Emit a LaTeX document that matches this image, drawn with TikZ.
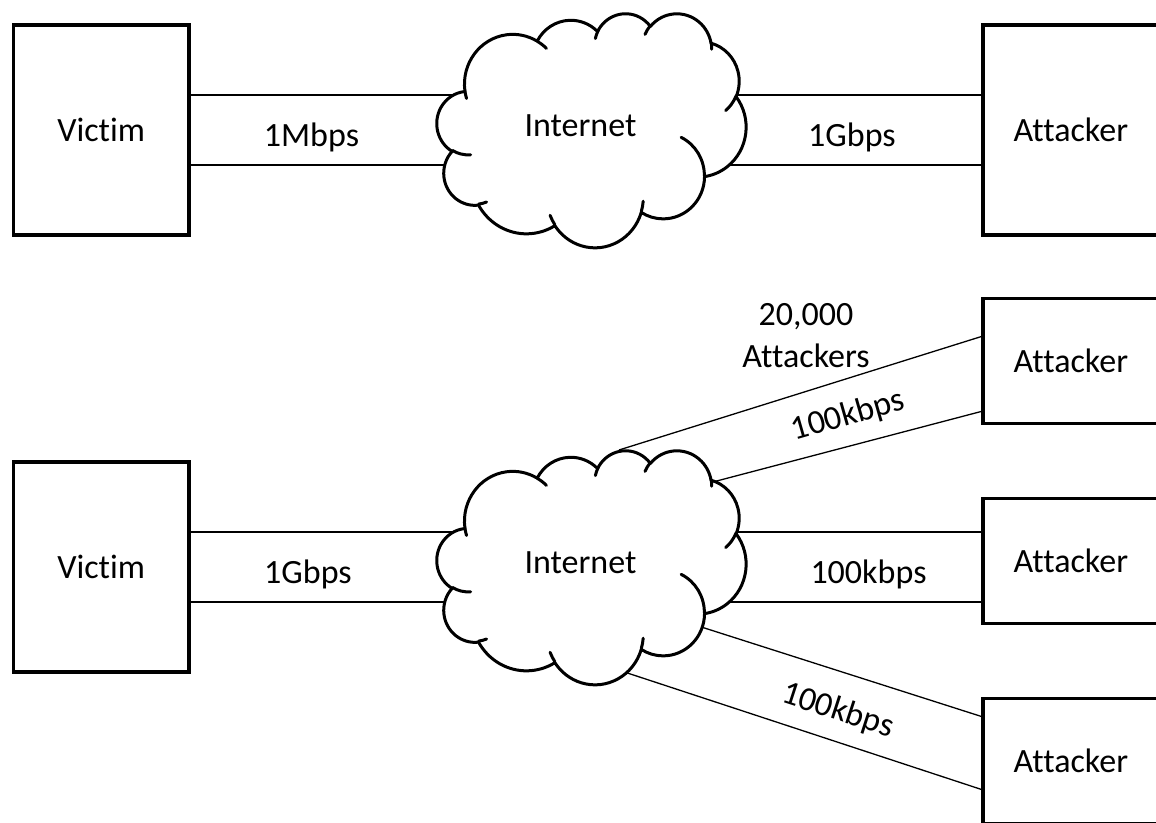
\documentclass[tikz,border=0pt]{standalone}
\usepackage{fontspec}
\setmainfont{Carlito}[Ligatures=NoCommon]
\usetikzlibrary{calc}

% one arc of the cloud outline: wR hR (path units /100), start and sweep angles (visual, y down)
\newcommand\carc[4]{arc[start angle={-atan2((#1)*sin(#3),(#2)*cos(#3))},
  delta angle={-mod(atan2((#1)*sin((#3)+(#4)),(#2)*cos((#3)+(#4)))-atan2((#1)*sin(#3),(#2)*cos(#3))+720,360)},
  x radius={(#1)*\cux pt}, y radius={(#2)*\cuy pt}]}

\newcommand\drawcloud[4]{% x0 y0 W H (pixels)
  \pgfmathsetmacro\cux{#3/864}%
  \pgfmathsetmacro\cuy{#4/864}%
  \begin{scope}[xshift={#1*0.5pt}, yshift={-#2*0.5pt}, x=\cux pt, y=-\cuy pt]
    \path[cloudshape] (39.00,143.70)
      \carc{67.53}{91.90}{-190.4875}{123.7805}
      \carc{53.33}{72.67}{-144.1024}{89.9452}
      \carc{43.65}{59.45}{-145.8079}{99.7230}
      \carc{48.57}{65.95}{-130.9861}{117.2417}
      \carc{53.33}{72.73}{-78.7089}{109.0269}
      \carc{67.75}{92.20}{-46.2673}{130.2690}
      \carc{57.85}{78.67}{0.6250}{114.0333}
      \carc{67.52}{92.15}{22.4516}{115.1726}
      \carc{77.20}{105.43}{66.2426}{75.7110}
      \carc{43.60}{59.18}{-274.9421}{146.7356}
      \carc{43.45}{59.45}{-246.8285}{152.5189}
      -- cycle;
    \path[cloudinner]
      (46.93,261.77) \carc{43.45}{59.45}{86.7420}{26.4295}
      (69.28,348.99) \carc{43.60}{59.18}{73.6105}{11.4475}
      (164.78,390.90) \carc{67.52}{92.15}{137.6242}{14.0811}
      (288.27,347.51) \carc{67.52}{92.15}{6.4533}{15.9984}
      (341.29,229.54) \carc{57.85}{78.67}{-70.2924}{70.9174}
      (417.98,153.54) \carc{53.33}{72.73}{30.3180}{27.7515}
      (383.24,54.26) \carc{48.57}{65.95}{-13.7443}{14.8589}
      (290.78,39.52) \carc{48.57}{65.95}{-149.1815}{18.1954}
      (221.41,47.20) \carc{43.65}{59.45}{-163.4943}{17.6864}
      (140.00,51.92) \carc{67.53}{91.90}{-66.7070}{12.3194}
      (41.27,157.89) \carc{67.53}{91.90}{157.6544}{11.8582};
  \end{scope}}

\tikzset{
  netbox/.style={draw, line width=1.65pt, minimum width=87.75pt, inner sep=0pt, outer sep=0pt,
    font=\fontsize{17}{21}\selectfont},
  lbl/.style={font=\fontsize{17}{21}\selectfont, inner sep=0pt},
  link/.style={line width=0.65pt},
  cloudshape/.style={draw, fill=white, line width=1.5pt, line join=round},
  cloudinner/.style={draw, line width=1.5pt, line cap=round},
}

\begin{document}
\begin{tikzpicture}[x=0.5pt, y=-0.5pt]
\useasboundingbox (0,0) rectangle (1156,823);
\clip (0,0) rectangle (1156,823);

% boxes
\node[netbox, minimum height=105pt] (v1) at (101.2,130) {Victim};
\node[netbox, minimum height=105pt] (a0) at (1070.8,130) {Attacker};
\node[netbox, minimum height=105pt] (v2) at (101.2,567) {Victim};
\node[netbox, minimum height=62.5pt] (a1) at (1070.8,361) {Attacker};
\node[netbox, minimum height=62.5pt] (a2) at (1070.8,561) {Attacker};
\node[netbox, minimum height=62.5pt] (a3) at (1070.8,761) {Attacker};

% cloud-side ends of the links
\coordinate (c1a) at (480,95);
\coordinate (c1b) at (480,165);
\coordinate (c1c) at (700,95);
\coordinate (c1d) at (700,165);
\coordinate (c2a) at (480,532);
\coordinate (c2b) at (480,602);
\coordinate (c2c) at (619,450);
\coordinate (c2d) at (690,488);
\coordinate (c2e) at (700,532);
\coordinate (c2f) at (700,602);
\coordinate (c2g) at (670,617);
\coordinate (c2h) at (600,664);

% links
\draw[link] ($(v1.east)+(0,-35)$) -- (c1a);
\draw[link] ($(v1.east)+(0,35)$) -- (c1b);
\draw[link] ($(a0.west)+(0,-35)$) -- (c1c);
\draw[link] ($(a0.west)+(0,35)$) -- (c1d);
\draw[link] ($(v2.east)+(0,-35)$) -- (c2a);
\draw[link] ($(v2.east)+(0,35)$) -- (c2b);
\draw[link] ($(a1.west)+(0,-25)$) -- (c2c);
\draw[link] ($(a1.west)+(0,50)$) -- (c2d);
\draw[link] ($(a2.west)+(0,-29)$) -- (c2e);
\draw[link] ($(a2.west)+(0,41)$) -- (c2f);
\draw[link] ($(a3.west)+(0,-44)$) -- (c2g);
\draw[link] ($(a3.west)+(0,29)$) -- (c2h);

% clouds
\drawcloud{437}{13}{309}{234}
\drawcloud{437}{450}{309}{234}
\node[lbl, anchor=base] (n1) at (580.5,136.7) {Internet};
\node[lbl, anchor=base] (n2) at (580.5,573.3) {Internet};

% labels
\node[lbl, anchor=base] (t1) at (311.5,147) {1Mbps};
\node[lbl, anchor=base] (t2) at (852,147) {1Gbps};
\node[lbl, anchor=base] (t3) at (308,583) {1Gbps};
\node[lbl, anchor=base] (t4) at (868.5,583) {100kbps};
\node[lbl, align=center, anchor=south] (t5) at (806,368) {20,000\\Attackers};
\node[lbl, rotate=16] (t6) at (848,416) {100kbps};
\node[lbl, rotate=-18] (t7) at (838,711) {100kbps};
\end{tikzpicture}
\end{document}
